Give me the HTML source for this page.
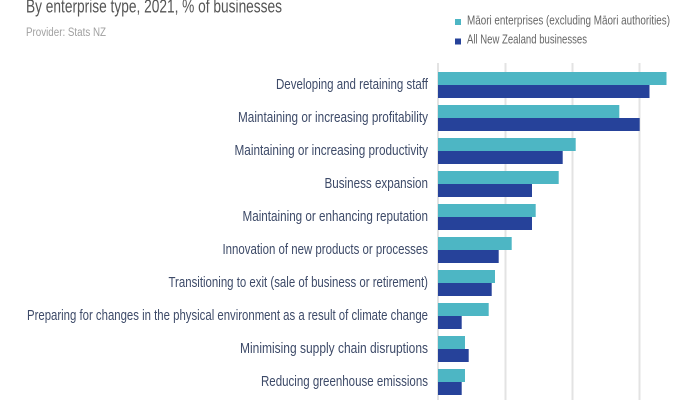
<!DOCTYPE html>
<html>
<head>
<meta charset="utf-8">
<style>
html,body{margin:0;padding:0;background:#fff;}
svg{display:block;}
text{font-family:"Liberation Sans",sans-serif;}
</style>
</head>
<body>
<svg width="700" height="400" viewBox="0 0 700 400" xmlns="http://www.w3.org/2000/svg">
  <rect width="700" height="400" fill="#fff"/>
  <!-- title -->
  <text x="26" y="12.5" font-size="18" fill="#555" textLength="256" lengthAdjust="spacingAndGlyphs">By enterprise type, 2021, % of businesses</text>
  <text x="26" y="36" font-size="11.5" fill="#a0a0a0" textLength="80" lengthAdjust="spacingAndGlyphs">Provider: Stats NZ</text>

  <!-- legend -->
  <rect x="455" y="19" width="6" height="6" fill="#4db6c4"/>
  <text x="467" y="24.5" font-size="12.5" fill="#666" textLength="203" lengthAdjust="spacingAndGlyphs">Māori enterprises (excluding Māori authorities)</text>
  <rect x="455" y="38.5" width="6" height="6" fill="#26429a"/>
  <text x="467" y="43.5" font-size="12.5" fill="#666" textLength="120" lengthAdjust="spacingAndGlyphs">All New Zealand businesses</text>

  <!-- gridlines -->
  <g stroke="#e3e3e3" stroke-width="2">
    <line x1="438" y1="63" x2="438" y2="400"/>
    <line x1="505.5" y1="63" x2="505.5" y2="400"/>
    <line x1="572.5" y1="63" x2="572.5" y2="400"/>
    <line x1="639.5" y1="63" x2="639.5" y2="400"/>
  </g>

  <!-- bars -->
  <g fill="#4db6c4">
    <rect x="438" y="72" width="228.5" height="13"/>
    <rect x="438" y="105" width="181.3" height="13"/>
    <rect x="438" y="138" width="137.7" height="13"/>
    <rect x="438" y="171" width="120.7" height="13"/>
    <rect x="438" y="204" width="97.7" height="13"/>
    <rect x="438" y="237" width="73.7" height="13"/>
    <rect x="438" y="270" width="57" height="13"/>
    <rect x="438" y="303" width="50.7" height="13"/>
    <rect x="438" y="336" width="27" height="13"/>
    <rect x="438" y="369" width="27" height="13"/>
  </g>
  <g fill="#26429a">
    <rect x="438" y="85" width="211.5" height="13"/>
    <rect x="438" y="118" width="201.7" height="13"/>
    <rect x="438" y="151" width="124.7" height="13"/>
    <rect x="438" y="184" width="94" height="13"/>
    <rect x="438" y="217" width="94" height="13"/>
    <rect x="438" y="250" width="60.7" height="13"/>
    <rect x="438" y="283" width="53.7" height="13"/>
    <rect x="438" y="316" width="23.7" height="13"/>
    <rect x="438" y="349" width="30.7" height="13"/>
    <rect x="438" y="382" width="23.7" height="13"/>
  </g>

  <!-- labels -->
  <g font-size="15" fill="#3d4a68" text-anchor="end">
    <text x="428" y="89" textLength="152" lengthAdjust="spacingAndGlyphs">Developing and retaining staff</text>
    <text x="428" y="122" textLength="190" lengthAdjust="spacingAndGlyphs">Maintaining or increasing profitability</text>
    <text x="428" y="155" textLength="193.5" lengthAdjust="spacingAndGlyphs">Maintaining or increasing productivity</text>
    <text x="428" y="188" textLength="103.5" lengthAdjust="spacingAndGlyphs">Business expansion</text>
    <text x="428" y="221" textLength="185.5" lengthAdjust="spacingAndGlyphs">Maintaining or enhancing reputation</text>
    <text x="428" y="254" textLength="205.5" lengthAdjust="spacingAndGlyphs">Innovation of new products or processes</text>
    <text x="428" y="287" textLength="259.5" lengthAdjust="spacingAndGlyphs">Transitioning to exit (sale of business or retirement)</text>
    <text x="428" y="320" textLength="401" lengthAdjust="spacingAndGlyphs">Preparing for changes in the physical environment as a result of climate change</text>
    <text x="428" y="353" textLength="188" lengthAdjust="spacingAndGlyphs">Minimising supply chain disruptions</text>
    <text x="428" y="386" textLength="167" lengthAdjust="spacingAndGlyphs">Reducing greenhouse emissions</text>
  </g>
</svg>
</body>
</html>
